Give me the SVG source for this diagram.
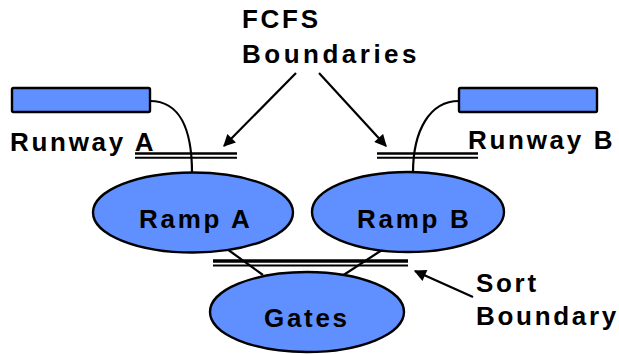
<svg xmlns="http://www.w3.org/2000/svg" width="619" height="354" viewBox="0 0 619 354">
<defs>
<style>
.shape{fill:#6090ff;stroke:#000;stroke-width:2.4}
.lbl{font-family:"Liberation Sans",Arial,sans-serif;font-weight:bold;font-size:26px;letter-spacing:2.7px;fill:#000}
.ln{stroke:#000;fill:none;stroke-width:2.2}
</style>
<marker id="ah" viewBox="0 0 10 10" refX="9" refY="5" markerWidth="6" markerHeight="5.5" orient="auto" markerUnits="strokeWidth">
<path d="M0,0 L10,5 L0,10 Z" fill="#000"/>
</marker>
</defs>
<rect width="619" height="354" fill="#fff"/>
<g id="connectors">
<path class="ln" d="M150,101 C180,101 192,130 192,173"/>
<path class="ln" d="M459,101 C430,101 413,130 413,173"/>
<line class="ln" x1="227" y1="249" x2="263" y2="275"/>
<line class="ln" x1="382" y1="250" x2="342" y2="276"/>
<line class="ln" x1="296" y1="73" x2="224" y2="146" stroke-width="2.5" marker-end="url(#ah)"/>
<line class="ln" x1="319" y1="73" x2="386" y2="146" stroke-width="2.5" marker-end="url(#ah)"/>
<line class="ln" x1="473" y1="297" x2="415" y2="271" stroke-width="2.5" marker-end="url(#ah)"/>
</g>
<g id="fcfs-a">
<line x1="135" y1="153.5" x2="237" y2="153.5" stroke="#000" stroke-width="2.3"/>
<line x1="135" y1="157.7" x2="237" y2="157.7" stroke="#000" stroke-width="2"/>
</g>
<g id="fcfs-b">
<line x1="377" y1="153.5" x2="478" y2="153.5" stroke="#000" stroke-width="2.3"/>
<line x1="377" y1="157.7" x2="478" y2="157.7" stroke="#000" stroke-width="2"/>
</g>
<g id="sort">
<line x1="213" y1="261" x2="408" y2="261" stroke="#000" stroke-width="3.3"/>
<line x1="213" y1="265.5" x2="408" y2="265.5" stroke="#000" stroke-width="1.8"/>
</g>
<g id="runway-a">
<rect class="shape" x="12" y="88" width="138" height="24" rx="1.5"/>
<text class="lbl" x="10" y="151">Runway A</text>
</g>
<g id="runway-b">
<rect class="shape" x="459" y="88" width="138" height="24" rx="1.5"/>
<text class="lbl" x="468" y="149">Runway B</text>
</g>
<g id="ramp-a">
<ellipse class="shape" cx="193" cy="212.5" rx="100" ry="40"/>
<text class="lbl" x="139" y="228">Ramp A</text>
</g>
<g id="ramp-b">
<ellipse class="shape" cx="408" cy="212" rx="96" ry="40"/>
<text class="lbl" x="357" y="228">Ramp B</text>
</g>
<g id="gates">
<ellipse class="shape" cx="307" cy="312" rx="97" ry="40"/>
<text class="lbl" x="264" y="327">Gates</text>
</g>
<g id="labels">
<text class="lbl" x="242" y="28">FCFS</text>
<text class="lbl" x="242" y="63" style="letter-spacing:3.5px">Boundaries</text>
<text class="lbl" x="476" y="292">Sort</text>
<text class="lbl" x="476" y="325">Boundary</text>
</g>
</svg>
